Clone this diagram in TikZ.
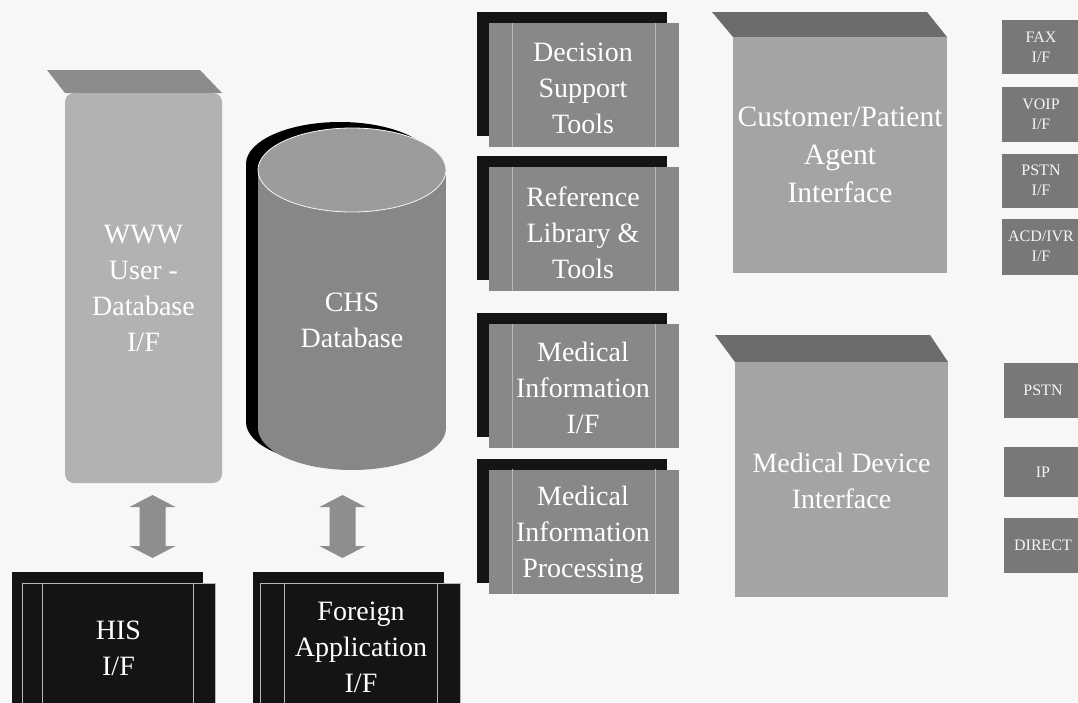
\documentclass[tikz,border=0pt]{standalone}
\usepackage{fontspec}
\setmainfont{Liberation Serif}
\definecolor{paper}{HTML}{F7F7F7}
\definecolor{wwwfront}{HTML}{B2B2B2}
\definecolor{wwwtop}{HTML}{8C8C8C}
\definecolor{cylbody}{HTML}{878787}
\definecolor{cyltop}{HTML}{9C9C9C}
\definecolor{toolgray}{HTML}{888888}
\definecolor{toolline}{HTML}{B8B8B8}
\definecolor{ifacefront}{HTML}{A4A4A4}
\definecolor{ifacetop}{HTML}{6C6C6C}
\definecolor{portgray}{HTML}{787878}
\definecolor{arrowgray}{HTML}{8E8E8E}
\definecolor{nearblack}{HTML}{141414}
\newcommand\labelfont{\fontsize{28}{36}\selectfont}
\newcommand\portfont{\fontsize{16}{20}\selectfont}
\tikzset{
  label txt/.style={text=white, align=center, font=\labelfont, inner sep=0pt},
  tool front/.style={rectangle, fill=toolgray, minimum width=190pt, minimum height=124pt, inner sep=0pt},
  tool back/.style={rectangle, fill=nearblack, minimum width=190pt, minimum height=124pt, inner sep=0pt},
  ext front/.style={rectangle, fill=nearblack, draw=toolline, line width=0.7pt, minimum width=193pt, minimum height=130pt, inner sep=0pt},
  ext back/.style={rectangle, fill=nearblack, minimum width=191pt, minimum height=140pt, inner sep=0pt},
  iface front/.style={rectangle, fill=ifacefront, inner sep=0pt},
  port/.style={rectangle, fill=portgray, minimum width=78pt, text=white!92!gray, font=\portfont, align=center, inner sep=0pt},
  updown/.pic={\fill[arrowgray] (0,0) -- (23,12) -- (13,12) -- (13,51) -- (23,51) -- (0,63)
      -- (-23,51) -- (-13,51) -- (-13,12) -- (-23,12) -- cycle;}
}
\begin{document}
\begin{tikzpicture}[x=1pt, y=-1pt]
\fill[paper] (0,0) rectangle (1078,702);
\useasboundingbox (0,0) rectangle (1078,702);

% WWW user-database interface: box with slanted top
\fill[wwwtop] (47,70) -- (200,70) -- (222,93) -- (65,93) -- cycle;
\node[iface front, fill=wwwfront, rounded corners=9pt, minimum width=157pt, minimum height=390pt] (www) at (143.5,288) {};
\node[label txt] (wwwtxt) at (www.center) {WWW\\User -\\Database\\I/F};

% CHS database cylinder with dark backing
\fill[black] (246,164) rectangle (434,422);
\fill[black] (340,164) ellipse [x radius=94pt, y radius=42pt];
\fill[black] (340,422) ellipse [x radius=94pt, y radius=42pt];
\fill[cylbody] (258,170) rectangle (446,428);
\fill[cylbody] (352,428) ellipse [x radius=94pt, y radius=42pt];
\fill[cyltop, draw=white!92!gray, line width=0.8pt] (352,170) ellipse [x radius=94pt, y radius=42pt];
\node[label txt] (chs) at (352,320) {CHS\\Database};

% exchange arrows
\pic at (152.5,495) {updown};
\pic at (342.5,495) {updown};

% external interfaces at the bottom
\node[ext back] (hisback) at (107.5,642) {};
\node[ext front] (his) at (118.5,648) {};
\draw[toolline, line width=0.7pt] ([xshift=21pt]his.north west) -- ([xshift=21pt]his.south west)
      ([xshift=-22pt]his.north east) -- ([xshift=-22pt]his.south east);
\node[label txt] (histxt) at (118.5,648) {HIS\\I/F};

\node[ext back] (fapback) at (348,642) {};
\node[ext front, minimum width=200pt] (fap) at (360,648) {};
\draw[toolline, line width=0.7pt] ([xshift=25pt]fap.north west) -- ([xshift=25pt]fap.south west)
      ([xshift=-23pt]fap.north east) -- ([xshift=-23pt]fap.south east);
\node[label txt] (faptxt) at (361,647) {Foreign\\Application\\I/F};

% tool column
\foreach \nm/\cy/\ty/\txt in {dst/85/88/{Decision\\Support\\Tools},
                             ref/229/233/{Reference\\Library \&\\Tools},
                             mif/386/388/{Medical\\Information\\I/F},
                             mip/531.5/535/{Medical\\Information\\Processing}}{
  \node[tool back] (\nm back) at (572,\cy-11) {};
  \node[tool front] (\nm) at (584,\cy) {};
  \draw[toolline, line width=0.5pt] ([xshift=23pt]\nm.north west) -- ([xshift=23pt]\nm.south west)
        ([xshift=-24pt]\nm.north east) -- ([xshift=-24pt]\nm.south east);
  \node[label txt] (\nm txt) at (583,\ty) {\txt};
}

% customer/patient agent interface
\fill[ifacetop] (712,12) -- (927,12) -- (947,37) -- (733,37) -- cycle;
\node[iface front, minimum width=214pt, minimum height=236pt] (cpa) at (840,155) {};
\node[label txt, font=\fontsize{29.5}{38}\selectfont] (cpatxt) at (840,155) {Customer/Patient\\Agent\\Interface};

% medical device interface
\fill[ifacetop] (715,335) -- (930,335) -- (948,362) -- (735,362) -- cycle;
\node[iface front, minimum width=213pt, minimum height=235pt] (mdi) at (841.5,479.5) {};
\node[label txt] (mditxt) at (841.5,481) {Medical Device\\Interface};

% communication ports
\node[port, minimum height=54pt] (fax) at (1041,47) {FAX\\I/F};
\node[port, minimum height=55pt] (voip) at (1041,114.5) {VOIP\\I/F};
\node[port, minimum height=54pt] (pstna) at (1041,180.5) {PSTN\\I/F};
\node[port, minimum height=56pt] (acd) at (1041,246.5) {ACD/IVR\\I/F};
\node[port, minimum height=55pt] (pstnb) at (1043,390.5) {PSTN};
\node[port, minimum height=50pt] (ip) at (1043,472) {IP};
\node[port, minimum height=55pt] (direct) at (1043,545.5) {DIRECT};
\end{tikzpicture}
\end{document}
